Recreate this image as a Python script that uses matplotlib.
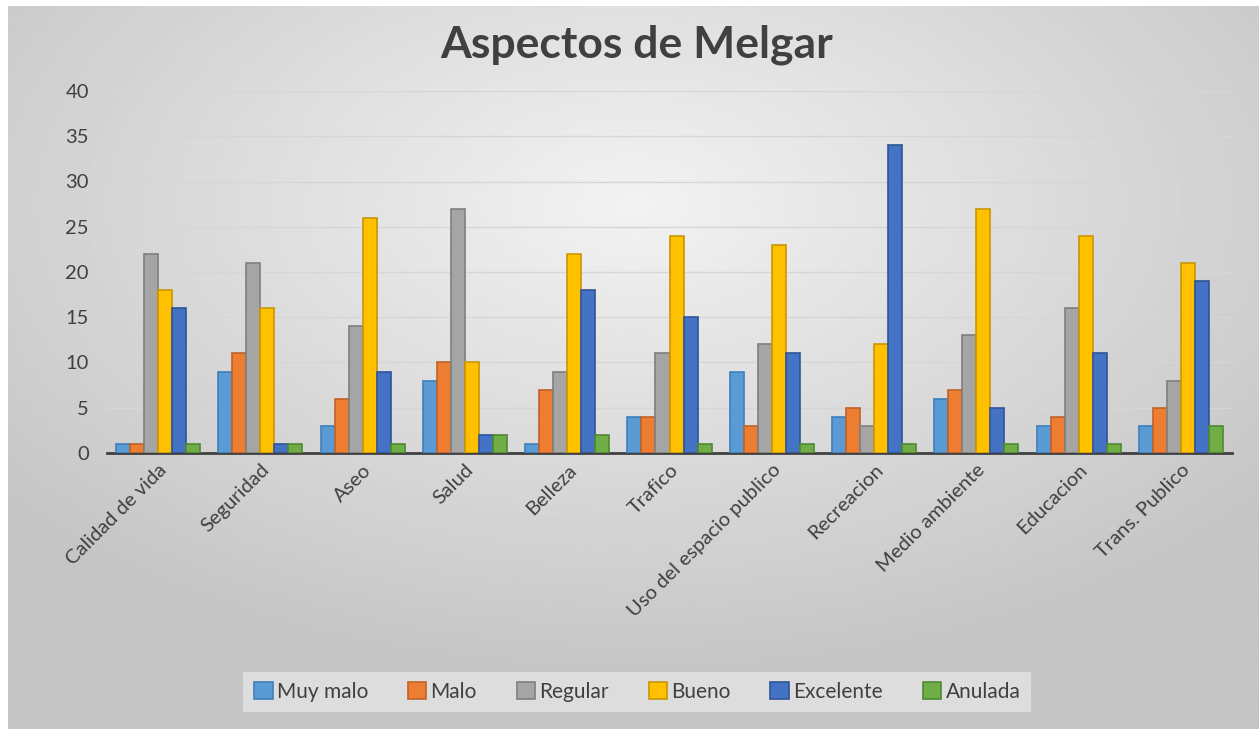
import matplotlib.pyplot as plt
import numpy as np

# Data
categories = ["Calidad de vida", "Seguridad", "Aseo", "Salud", "Belleza", "Trafico",
              "Uso del espacio publico", "Recreacion", "Medio ambiente", "Educacion",
              "Trans. Publico"]
series_names = ["Muy malo", "Malo", "Regular", "Bueno", "Excelente", "Anulada"]
muy_malo = [1, 9, 3, 8, 1, 4, 9, 4, 6, 3, 3]
malo = [1, 11, 6, 10, 7, 4, 3, 5, 7, 4, 5]
regular = [22, 21, 14, 27, 9, 11, 12, 3, 13, 16, 8]
bueno = [18, 16, 26, 10, 22, 24, 23, 12, 27, 24, 21]
excelente = [16, 1, 9, 2, 18, 15, 11, 34, 5, 11, 19]
anulada = [1, 1, 1, 2, 2, 1, 1, 1, 1, 1, 3]
yticks = [0, 5, 10, 15, 20, 25, 30, 35, 40]

colors = ["#5B9BD5", "#ED7D31", "#A5A5A5", "#FFC000", "#4472C4", "#70AD47"]
edges = ["#3f7fba", "#c0622a", "#7f7f7f", "#c99700", "#2f5597", "#4e8a30"]

plt.rcParams["font.family"] = ["Lato", "DejaVu Sans"]

fig = plt.figure(figsize=(12.59, 7.29), dpi=100)
fig.patch.set_facecolor("white")

# gradient background of the chart area
bg = fig.add_axes([8 / 1259, 0, 1 - 8 / 1259, 1 - 6 / 729], zorder=0)
yy, xx = np.mgrid[-1:1:300j, -1:1:500j]
r = np.sqrt((xx * 0.9) ** 2 + ((yy + 0.45) * 0.9) ** 2)
bg.imshow(0.95 - 0.18 * np.clip(r, 0, 1.2) / 1.2, cmap="gray", vmin=0, vmax=1,
          aspect="auto", extent=[0, 1, 0, 1])
bg.set_axis_off()

ax = fig.add_axes([107 / 1259, 1 - 453 / 729, (1232 - 107) / 1259, (453 - 91) / 729], zorder=1)
ax.patch.set_alpha(0)

x = np.arange(len(categories))
w = 0.137
data = [muy_malo, malo, regular, bueno, excelente, anulada]
for i, (name, vals) in enumerate(zip(series_names, data)):
    ax.bar(x + (i - 2.5) * w, vals, w, color=colors[i], edgecolor=edges[i],
           linewidth=1.2, label=name, zorder=3)

ax.set_xlim(-0.5, len(categories) - 0.5)
ax.set_ylim(0, 40)
ax.set_yticks(yticks)
ax.grid(axis="y", color="#d6d6d6", linewidth=1, zorder=0)
for s in ["top", "right", "left"]:
    ax.spines[s].set_visible(False)
ax.spines["bottom"].set_color("#404040")
ax.spines["bottom"].set_linewidth(2)
ax.tick_params(axis="y", length=0, labelsize=14.5, labelcolor="#404040", pad=13)
ax.tick_params(axis="x", length=0, labelsize=14.5, labelcolor="#404040", pad=6)
ax.set_xticks(x)
ax.set_xticklabels(categories, rotation=45, ha="right", rotation_mode="anchor")

fig.text(0.506, 1 - 45 / 729, "Aspectos de Melgar", ha="center", va="center",
         fontsize=32, fontweight="bold", color="#404040")

leg = fig.legend(loc="center", bbox_to_anchor=(0.506, 1 - 692 / 729), ncol=6,
                 fontsize=15, frameon=True, fancybox=False, handlelength=0.9,
                 handleheight=0.9, handletextpad=0.2, columnspacing=1.9,
                 borderpad=0.5)
leg.get_frame().set_facecolor("#e4e4e4")
leg.get_frame().set_edgecolor("none")
for t in leg.get_texts():
    t.set_color("#404040")

fig.savefig("out.png", dpi=100)
